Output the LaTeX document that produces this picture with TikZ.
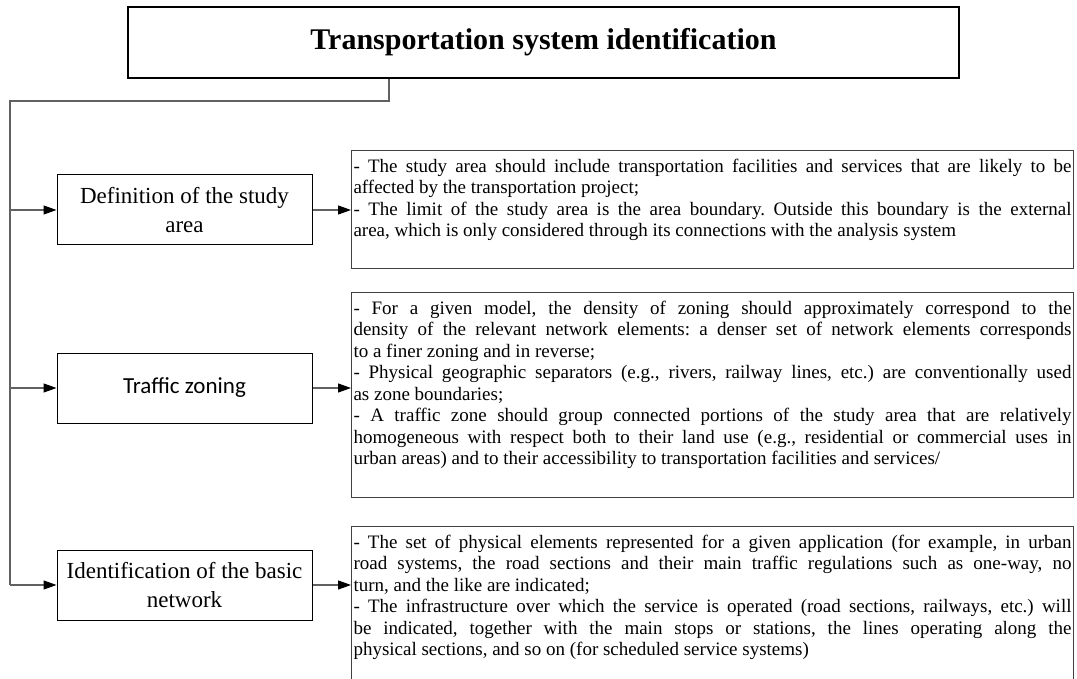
\documentclass[tikz,border=0pt]{standalone}
\usepackage{fontspec}
\setmainfont{Liberation Serif}
\newfontfamily\calibrifont{Carlito}
\usetikzlibrary{arrows.meta}
\newcommand\colorLink{black!62}
\newcommand\colorNote{black!75}
\newcommand\noteWidth{718pt}
\newcommand\noteFont{\fontsize{19}{21.5}\selectfont\frenchspacing}
\newcommand\noteText[2]{\parbox[t][#1][t]{\noteWidth}{\noteFont #2}}
\tikzset{
	titlebox/.style={draw, line width=1.5pt, minimum width=831pt, minimum height=71pt, inner sep=0pt, font=\fontsize{30}{34}\selectfont\bfseries},
	stagebox/.style={draw, line width=1pt, minimum width=255pt, minimum height=70pt, align=center, inner sep=0pt, font=\fontsize{23}{29}\selectfont},
	notebox/.style={draw=\colorNote, line width=1pt, anchor=north west, inner xsep=2pt, inner ysep=8.5pt},
	link/.style={draw=\colorLink, line width=1.2pt},
	arrowlink/.style={link, -{Triangle[length=13pt,width=9pt,color=black]}}
}
\begin{document}
\begin{tikzpicture}[x=1pt, y=-1pt]
	\useasboundingbox (0,0) rectangle (1077,679);

	% heading
	\node[titlebox] (title) at (543.5,42.5) {Transportation system identification};

	% the three stages
	\node[stagebox] (area) at (184.5,210) {Definition of the study\\area};
	\node[stagebox] (zoning) at (184.5,388) {\calibrifont Traffic zoning};
	\node[stagebox] (network) at (184.5,585) {Identification of the basic\\network};

	% notes beside the stages
	\node[notebox] (areanote) at (351,150) {\noteText{101pt}{%
		- The study area should include transportation facilities and services that are likely to be\linebreak
		affected by the transportation project;\par
		- The limit of the study area is the area boundary. Outside this boundary is the external\linebreak
		area, which is only considered through its connections with the analysis system}};
	\node[notebox] (zoningnote) at (351,292) {\noteText{188pt}{%
		- For a given model, the density of zoning should approximately correspond to the\linebreak
		density of the relevant network elements: a denser set of network elements corresponds\linebreak
		to a finer zoning and in reverse;\par
		- Physical geographic separators (e.g., rivers, railway lines, etc.) are conventionally used\linebreak
		as zone boundaries;\par
		- A traffic zone should group connected portions of the study area that are relatively\linebreak
		homogeneous with respect both to their land use (e.g., residential or commercial uses in\linebreak
		urban areas) and to their accessibility to transportation facilities and services/}};
	\node[notebox] (networknote) at (351,526) {\noteText{165pt}{%
		- The set of physical elements represented for a given application (for example, in urban\linebreak
		road systems, the road sections and their main traffic regulations such as one-way, no\linebreak
		turn, and the like are indicated;\par
		- The infrastructure over which the service is operated (road sections, railways, etc.) will\linebreak
		be indicated, together with the main stops or stations, the lines operating along the\linebreak
		physical sections, and so on (for scheduled service systems)}};

	% trunk line
	\coordinate (drop) at (389,101);
	\coordinate (corner) at (10,101);
	\draw[link] (drop |- title.south) -- (drop) -- (corner) -- (corner |- network.west);

	\foreach \s in {area,zoning,network}{
		\draw[arrowlink] (corner |- \s.west) -- (\s.west);
		\draw[arrowlink] (\s.east) -- (\s.east -| \s note.west);
	}
\end{tikzpicture}
\end{document}
